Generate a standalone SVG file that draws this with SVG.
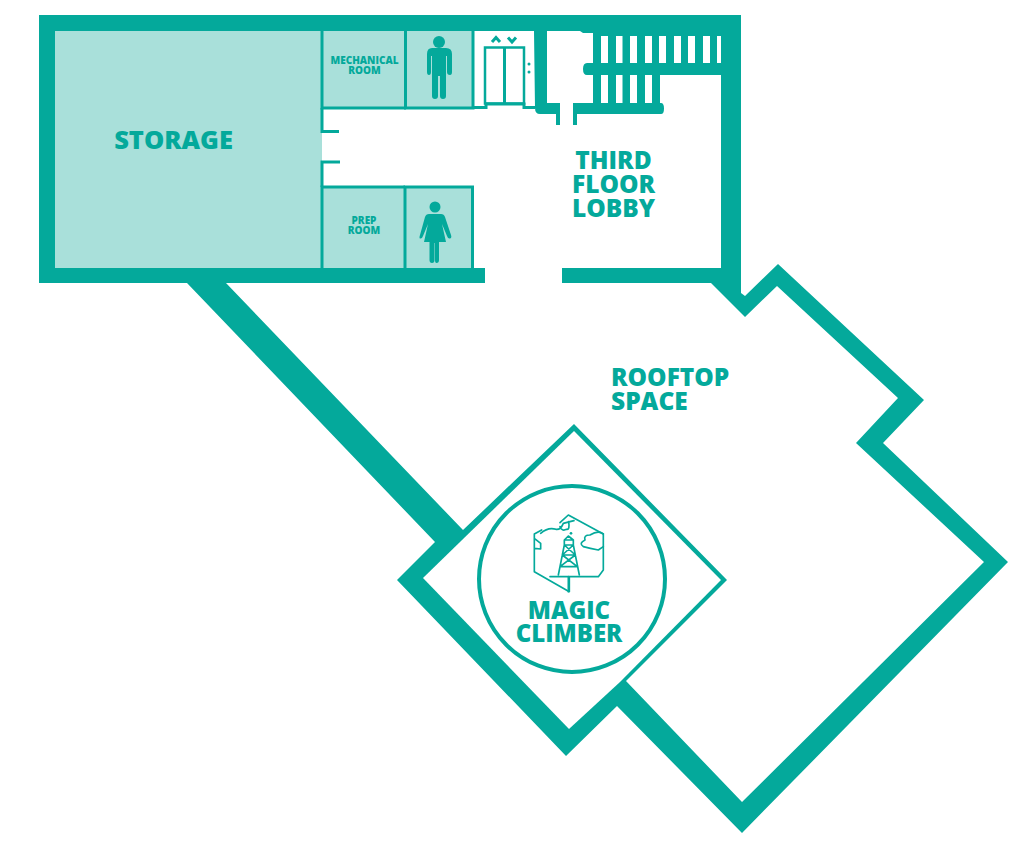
<svg xmlns="http://www.w3.org/2000/svg" width="1024" height="850" viewBox="0 0 1024 850">
<style>
.t{fill:#04a99b}
.l{fill:#a9e0da}
.w{fill:#fff}
.ln{fill:none;stroke:#04a99b;stroke-width:3}
.lab{font-family:"Open Sans","Noto Sans",sans-serif;font-weight:800;fill:#04a99b;text-anchor:middle}
.big{font-size:24.500px}
.small{font-size:10px}
.ic{fill:none;stroke:#04a99b;stroke-width:5;stroke-linejoin:round;stroke-linecap:round}
</style>
<rect width="1024" height="850" fill="#fff"/>
<g id="rooftop-walls">
<path class="t" d="M39 15H741V293L745 296L778 264L924 400L883 443L1008 562L742 833L617 706L566 756L397 580L435 542L187 283H39ZM55 31V268H485V283H226L463 530L574 424L727 580L626 681L742 802L984 562L856 443L898 398L777 286L745 317L711 283H562V268H721V31Z" fill-rule="evenodd"/>
<path class="w" d="M423 578L574 431L721 580L620 682L569 729Z"/>
</g>
<g id="storage">
<rect class="l" x="55" y="31" width="267" height="237"/>
<text class="lab" x="173.500" y="149" font-size="25.500">STORAGE</text>
</g>
<g id="mechanical-room">
<rect class="l" x="322" y="31" width="84" height="77"/>
<path class="ln" d="M322 31V108H406"/>
<text class="lab small" x="364.500" y="64">MECHANICAL</text>
<text class="lab small" x="364.500" y="74">ROOM</text>
</g>
<g id="mens-room">
<rect class="l" x="406" y="31" width="67" height="77"/>
<path class="ln" d="M405.500 31V108H473V31"/>
<circle class="t" cx="439" cy="42" r="6"/>
<path class="t" d="M432 48H446Q452 48 452 54V72Q452 75 450 75Q447 75 447 72V56H446V96Q446 99 443 99Q440 99 440 96V76H438V96Q438 99 435 99Q432 99 432 96V56H431V72Q431 75 429 75Q427 75 427 72V54Q427 48 432 48Z"/>
</g>
<g id="prep-room">
<rect class="l" x="322" y="187" width="83" height="81"/>
<path class="ln" d="M322 268V187H405"/>
<text class="lab small" x="364" y="224">PREP</text>
<text class="lab small" x="364" y="234">ROOM</text>
</g>
<g id="womens-room">
<rect class="l" x="405" y="187" width="68" height="81"/>
<path class="ln" d="M405 268V187H472.500V268"/>
<circle class="t" cx="435" cy="207" r="5.500"/>
<path class="t" d="M429 214H441Q444 214 445 217L451 235Q452 238 450 238.500Q448 239 447 236L442 224L446 242H439V260Q439 263 436.500 263Q435 263 435 260V243H434.500V260Q434.500 263 432 263Q429.500 263 429.500 260V242H424L428 224L423 236Q422 239 420 238.500Q419 238 420 235L425 217Q426 214 429 214Z"/>
</g>
<g id="corridor-stubs">
<path class="ln" d="M322 108V131.500H339M322 187V162H340"/>
</g>
<g id="elevator">
<path class="ln" d="M473 107.500H486V104H524V107.500H535"/>
<rect x="485" y="47.500" width="39" height="56" fill="none" stroke="#04a99b" stroke-width="2.500"/>
<path class="ln" stroke-width="2.500" d="M504.500 47V104"/>
<path d="M492 42L496 37.500L500 42M508 37.500L512 42L516 37.500" fill="none" stroke="#04a99b" stroke-width="3"/>
<circle class="t" cx="529" cy="64" r="1.500"/>
<circle class="t" cx="529" cy="72" r="1.500"/>
</g>
<g id="stairs">
<path class="t" d="M534 31H547V103H560V125H556V114H540Q535 114 535 108Z"/>
<path class="t" d="M573 125V103H593V75H587Q583 75 583 69Q583 63 587 63H593V33L583 33L580 31H721V75H660V103H661Q664 103 664 108.500Q664 114 661 114H577V125Z"/>
<path class="w" d="M601 36h7v27h-7zM616 36h6.500v27H616zM630 36h7v27h-7zM645 36h7v27h-7zM659 36h7v27h-7zM674 36h7v27h-7zM688 36h7v27h-7zM703 36h7v27h-7zM717 36h4v27h-4zM601 75h7v28h-7zM616 75h6.500v28H616zM630 75h7v28h-7zM645 75h7v28h-7z"/>
</g>
<g id="third-floor-lobby">
<text class="lab big" x="613.500" y="169">THIRD</text>
<text class="lab big" x="613.500" y="193">FLOOR</text>
<text class="lab big" x="613.500" y="217">LOBBY</text>
</g>
<g id="rooftop-space">
<text class="lab big" style="text-anchor:start" x="611" y="386" font-size="24">ROOFTOP</text>
<text class="lab big" style="text-anchor:start" x="611" y="410">SPACE</text>
</g>
<g id="magic-climber">
<circle cx="572" cy="579" r="93" fill="none" stroke="#04a99b" stroke-width="4"/>
<g transform="translate(470 480) scale(.3333)">
<path class="ic" d="M270 128L295 105L400 162V270L385 290H240M215 150L193 162V275L298 335V290M193 175L212 190V207L193 205"/>
<path class="ic" d="M212 160Q235 140 258 148Q272 150 280 130Q298 125 312 122M296 125Q300 150 290 148Q275 155 270 140"/>
<path class="ic" d="M400 162Q385 150 360 165Q340 165 345 180Q325 190 340 200Q360 205 385 210L400 200"/>
<path class="ic" d="M283 180H310V195H283ZM283 195L265 285M310 195L328 285M283 180L295 168L310 180M277 225H316M270 260H322M283 195L316 225M310 195L277 225M277 225L322 260M316 225L270 260M295 290V335"/>
<circle class="t" cx="303" cy="160" r="4"/>
</g>
<text class="lab" x="569" y="619" font-size="24">MAGIC</text>
<text class="lab" x="569" y="642" font-size="24">CLIMBER</text>
</g>
</svg>
